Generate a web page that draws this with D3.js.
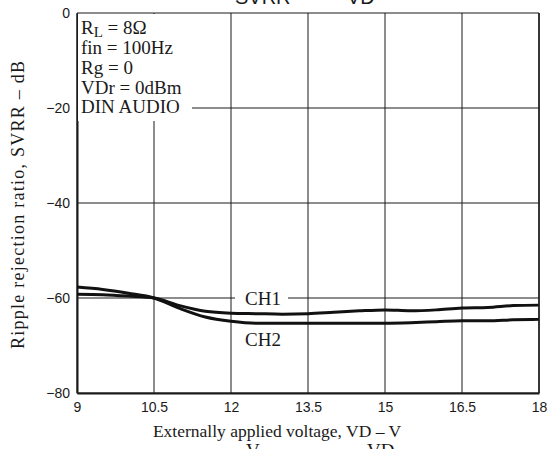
<!DOCTYPE html>
<html>
<head>
<meta charset="utf-8">
<script src="https://cdn.jsdelivr.net/npm/d3@7"></script>
<style>
  body { margin: 0; background: #fff; }
  svg { display: block; }
</style>
</head>
<body>
<div id="chart"></div>
<script>
// data
const voltage = [9, 9.5, 10, 10.5, 11, 11.5, 12, 12.5, 13, 13.5, 14, 14.5, 15, 15.5, 16, 16.5, 17, 17.5, 18];
const ch1 = [-59.2, -59.3, -59.6, -60.0, -61.6, -62.8, -63.2, -63.3, -63.4, -63.3, -63.0, -62.7, -62.5, -62.7, -62.5, -62.1, -62.0, -61.6, -61.5];
const ch2 = [-57.7, -58.2, -59.0, -60.0, -62.2, -64.0, -64.9, -65.3, -65.3, -65.3, -65.3, -65.3, -65.3, -65.2, -65.0, -64.8, -64.8, -64.6, -64.5];
const xTicks = [9, 10.5, 12, 13.5, 15, 16.5, 18];
const yTicks = [0, -20, -40, -60, -80];
const conditions = ["fin = 100Hz", "Rg = 0", "VDr = 0dBm", "DIN AUDIO"];

const W = 547, H = 449;
const margin = {top: 13, right: 8, bottom: 56, left: 77};
const width = W - margin.left - margin.right;
const height = H - margin.top - margin.bottom;

const svg = d3.select("#chart").append("svg")
    .attr("width", W)
    .attr("height", H);

const g = svg.append("g")
    .attr("transform", "translate(" + margin.left + "," + margin.top + ")");

const x = d3.scaleLinear().domain([9, 18]).range([0, width]);
const y = d3.scaleLinear().domain([-80, 0]).range([height, 0]);

const serif = "'Liberation Serif', 'Times New Roman', serif";
const sans = "'Liberation Sans', Arial, sans-serif";
const ink = "#1a1a1a";

// grid
g.append("g").selectAll("line")
    .data(xTicks)
    .enter().append("line")
    .attr("x1", d => x(d)).attr("x2", d => x(d))
    .attr("y1", 0).attr("y2", height)
    .attr("stroke", ink).attr("stroke-width", 1);

g.append("g").selectAll("line")
    .data(yTicks)
    .enter().append("line")
    .attr("x1", 0).attr("x2", width)
    .attr("y1", d => y(d)).attr("y2", d => y(d))
    .attr("stroke", ink).attr("stroke-width", 1);

// axes
const xAxis = d3.axisBottom(x).tickValues(xTicks).tickSize(0).tickPadding(9)
    .tickFormat(d => d);
const yAxis = d3.axisLeft(y).tickValues(yTicks).tickSize(0).tickPadding(7)
    .tickFormat(d => d < 0 ? "\u2212" + Math.abs(d) : d);

g.append("g")
    .attr("transform", "translate(0," + height + ")")
    .call(xAxis)
    .call(a => a.select(".domain").attr("stroke", ink).attr("stroke-width", 2))
    .selectAll("text")
    .attr("font-family", sans).attr("font-size", 14).attr("fill", ink);

g.append("g")
    .call(yAxis)
    .call(a => a.select(".domain").attr("stroke", ink).attr("stroke-width", 2))
    .selectAll("text")
    .attr("font-family", sans).attr("font-size", 14).attr("fill", ink);

// conditions box (masks grid)
g.append("rect")
    .attr("x", 1).attr("y", 1)
    .attr("width", 114).attr("height", 107)
    .attr("fill", "#fff");

const cond = g.append("text")
    .attr("font-family", serif).attr("font-size", 19).attr("fill", ink)
    .attr("x", 4).attr("y", 20.5);
cond.append("tspan").text("R");
cond.append("tspan").attr("dy", 3.5).attr("font-size", 15).text("L");
cond.append("tspan").attr("dy", -3.5).text(" = 8\u03A9");

g.selectAll("text.cond")
    .data(conditions)
    .enter().append("text")
    .attr("class", "cond")
    .attr("font-family", serif).attr("font-size", 19).attr("fill", ink)
    .attr("x", 4)
    .attr("y", (d, i) => 41 + i * 19.8)
    .text(d => d);

// curves
const line = d3.line()
    .x((d, i) => x(voltage[i]))
    .y(d => y(d))
    .curve(d3.curveMonotoneX);

g.selectAll("path.curve")
    .data([ch1, ch2])
    .enter().append("path")
    .attr("class", "curve")
    .attr("d", line)
    .attr("fill", "none")
    .attr("stroke", "#111")
    .attr("stroke-width", 3);

// channel labels
g.append("rect")
    .attr("x", 158).attr("y", y(-60) - 2)
    .attr("width", 53).attr("height", 4)
    .attr("fill", "#fff");

g.append("text")
    .attr("font-family", serif).attr("font-size", 19).attr("fill", ink)
    .attr("x", 168).attr("y", y(-60) + 7)
    .text("CH1");

g.append("text")
    .attr("font-family", serif).attr("font-size", 19).attr("fill", ink)
    .attr("x", 168).attr("y", y(-66) + 19)
    .text("CH2");

// right frame line
g.append("line")
    .attr("x1", width).attr("x2", width).attr("y1", 0).attr("y2", height)
    .attr("stroke", ink).attr("stroke-width", 1.5);

// axis titles
svg.append("text")
    .attr("font-family", serif).attr("font-size", 18).attr("fill", ink)
    .attr("text-anchor", "middle")
    .attr("textLength", 288).attr("lengthAdjust", "spacing")
    .attr("transform", "translate(24,205) rotate(-90)")
    .text("Ripple rejection ratio, SVRR  \u2013  dB");

svg.append("text")
    .attr("font-family", serif).attr("font-size", 17.5).attr("fill", ink)
    .attr("text-anchor", "middle")
    .attr("x", 277).attr("y", 437)
    .text("Externally applied voltage, VD  \u2013  V");

// titles clipped at the page edges
const topTitle = svg.append("text")
    .attr("font-family", sans).attr("font-size", 20).attr("fill", ink)
    .attr("y", 4);
topTitle.append("tspan").attr("x", 235).text("SVRR");
topTitle.append("tspan").attr("x", 305).text("\u2014");
topTitle.append("tspan").attr("x", 347).text("VD");

const bottomTitle = svg.append("text")
    .attr("font-family", serif).attr("font-size", 19).attr("fill", ink)
    .attr("y", 457);
bottomTitle.append("tspan").attr("x", 246).text("V");
bottomTitle.append("tspan").attr("x", 367).text("VD");
</script>
</body>
</html>
